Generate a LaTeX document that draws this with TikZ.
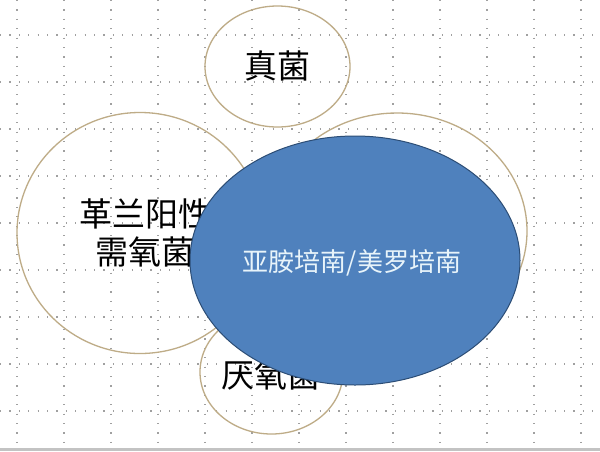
\documentclass[tikz,border=0pt]{standalone}
\usepackage{fontspec}
\newfontfamily\cjk{Noto Sans CJK SC}
\usetikzlibrary{shapes.geometric}
\definecolor{gridc}{RGB}{160,160,160}
\definecolor{ringc}{RGB}{190,172,135}
\definecolor{blueF}{RGB}{79,129,189}
\definecolor{blueD}{RGB}{44,77,117}
\definecolor{txtW}{RGB}{232,244,250}
\definecolor{barc}{RGB}{195,195,195}
\tikzset{
 gridline/.style={gridc, line width=1.1pt, dash pattern=on 1.1pt off 8.3pt},
 ring/.style={ellipse, draw=ringc, line width=1.3pt, inner sep=0pt},
 lbl/.style={font=\cjk\fontsize{33}{38}\selectfont, text=black, align=center, inner sep=0pt},
 core/.style={ellipse, draw=blueD, fill=blueF, line width=1pt, inner sep=0pt},
 coretxt/.style={font=\cjk\fontsize{26}{30}\selectfont, text=txtW, inner sep=0pt}
}
\begin{document}
\begin{tikzpicture}[x=1pt,y=-1pt]
\useasboundingbox (0,0) rectangle (600,451);
\fill[white] (0,0) rectangle (600,451);
\foreach \i in {0,...,12} \draw[gridline] (17+47*\i,0) -- (17+47*\i,451);
\foreach \j in {0,...,8} \draw[gridline] (0,35+47*\j) -- (600,35+47*\j);
\node[ring, minimum width=145pt, minimum height=121pt] (fungi) at (277.5,66.5) {};
\node[ring, minimum width=246pt, minimum height=241pt] (gpos) at (140,233) {};
\node[ring, minimum width=260pt, minimum height=236pt] (gneg) at (397,231) {};
\node[ring, minimum width=143pt, minimum height=124pt] (anae) at (271.5,372) {};
\node[lbl] (t1) at (277,66) {真菌};
\node[lbl] (t2) at (145,233) {革兰阳性\\需氧菌};
\node[lbl] (t3) at (271,375) {厌氧菌};
\node[core, minimum width=330pt, minimum height=249pt] (carb) at (355,260.5) {};
\node[coretxt] (t4) at (352,262.5) {亚胺培南/美罗培南};
\fill[barc] (0,448) rectangle (600,451);
\end{tikzpicture}
\end{document}
